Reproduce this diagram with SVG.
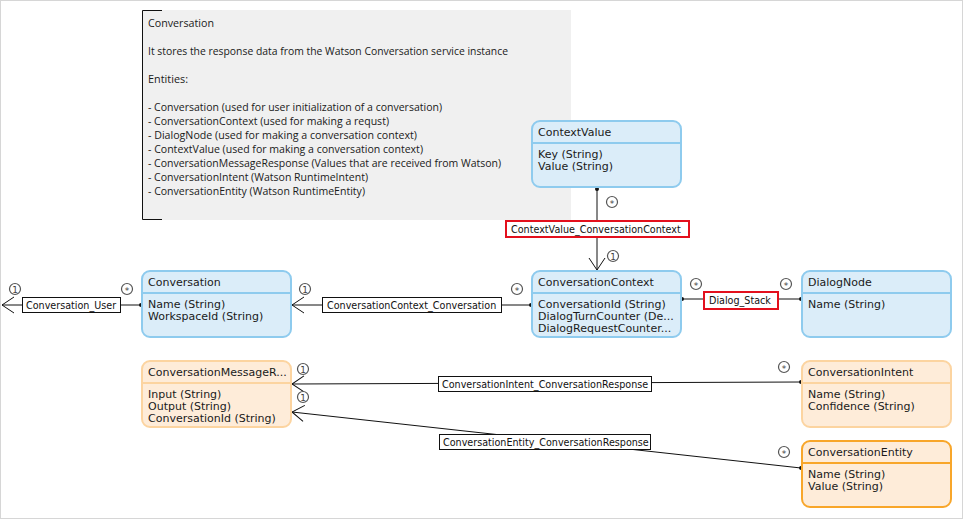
<svg xmlns="http://www.w3.org/2000/svg" width="964" height="520" viewBox="0 0 964 520">
<style>
.frame{fill:#fff;stroke:#d6d6d6;stroke-width:1}
.note{fill:#f0f0f0}
.nt{font-family:"Open Sans","Noto Sans",sans-serif;font-size:10.5px;fill:#1a1a1a}
.blue{fill:#dbedf9;stroke:#8ecbee;stroke-width:2}
.orange{fill:#feecd9;stroke:#fcd4a0;stroke-width:2}
.sel{fill:#feecd9;stroke:#f8a62a;stroke-width:2}
.sepb{stroke:#8ecbee;stroke-width:2}
.sepo{stroke:#fcd4a0;stroke-width:2}
.seps{stroke:#f8a62a;stroke-width:2}
.h{font-family:"DejaVu Sans",Verdana,sans-serif;font-size:11px;fill:#1a1a1a}
.a{font-family:"DejaVu Sans",Verdana,sans-serif;font-size:11px;fill:#1a1a1a}
.ln{stroke:#111;stroke-width:1;fill:none}
.lb{fill:#fff;stroke:#111;stroke-width:1}
.lbr{fill:#fff;stroke:#e3101d;stroke-width:2}
.lt{font-family:"DejaVu Sans",Verdana,sans-serif;font-size:9.6px;fill:#111}
.mc{fill:#fff;stroke:#555;stroke-width:1.2}
.mt{font-family:"DejaVu Sans",sans-serif;font-size:9px;fill:#444;text-anchor:middle}
</style>
<defs>
<marker id="open" markerUnits="userSpaceOnUse" markerWidth="16" markerHeight="18" refX="1" refY="9" orient="auto" overflow="visible">
<path d="M13,1 L1,9 L13,17" fill="none" stroke="#111" stroke-width="1"/>
</marker>
<marker id="dot" markerUnits="userSpaceOnUse" markerWidth="6" markerHeight="6" refX="3" refY="3" orient="auto">
<circle cx="3" cy="3" r="2" fill="#111"/>
</marker>
</defs>
<rect class="frame" x="0.5" y="0.5" width="962" height="518"/>

<g id="note">
<rect class="note" x="142" y="10" width="429" height="210"/>
<path d="M162,10.5 H142.5 V219.5 H162" fill="none" stroke="#111" stroke-width="1"/>
<text class="nt" x="148" y="27" textLength="66" lengthAdjust="spacingAndGlyphs">Conversation</text>
<text class="nt" x="148" y="55" textLength="360" lengthAdjust="spacingAndGlyphs">It stores the response data from the Watson Conversation service instance</text>
<text class="nt" x="148" y="83" textLength="40" lengthAdjust="spacingAndGlyphs">Entities:</text>
<text class="nt" x="148" y="111" textLength="294" lengthAdjust="spacingAndGlyphs">- Conversation (used for user initialization of a conversation)</text>
<text class="nt" x="148" y="125" textLength="241" lengthAdjust="spacingAndGlyphs">- ConversationContext (used for making a requst)</text>
<text class="nt" x="148" y="139" textLength="269" lengthAdjust="spacingAndGlyphs">- DialogNode (used for making a conversation context)</text>
<text class="nt" x="148" y="153" textLength="275" lengthAdjust="spacingAndGlyphs">- ContextValue (used for making a conversation context)</text>
<text class="nt" x="148" y="167" textLength="353" lengthAdjust="spacingAndGlyphs">- ConversationMessageResponse (Values that are received from Watson)</text>
<text class="nt" x="148" y="181" textLength="220" lengthAdjust="spacingAndGlyphs">- ConversationIntent (Watson RuntimeIntent)</text>
<text class="nt" x="148" y="195" textLength="217" lengthAdjust="spacingAndGlyphs">- ConversationEntity (Watson RuntimeEntity)</text>
</g>

<g id="connectors">
<line class="ln" x1="2" y1="305" x2="141" y2="305" marker-start="url(#open)" marker-end="url(#dot)"/>
<line class="ln" x1="292" y1="305" x2="531" y2="305" marker-start="url(#open)" marker-end="url(#dot)"/>
<line class="ln" x1="597" y1="270" x2="597" y2="189" marker-start="url(#open)" marker-end="url(#dot)"/>
<line class="ln" x1="682" y1="299" x2="801" y2="299" marker-start="url(#dot)" marker-end="url(#dot)"/>
<line class="ln" x1="292" y1="384" x2="801" y2="382" marker-start="url(#open)" marker-end="url(#dot)" stroke="#444"/>
<line class="ln" x1="292" y1="412" x2="801" y2="468" marker-start="url(#open)" marker-end="url(#dot)"/>

<rect class="lb" x="22.5" y="297.5" width="98" height="15"/>
<text class="lt" x="26" y="309">Conversation_User</text>
<rect class="lb" x="322.5" y="297.5" width="179" height="15"/>
<text class="lt" x="327" y="309">ConversationContext_Conversation</text>
<rect class="lbr" x="506" y="221" width="183" height="16"/>
<text class="lt" x="511" y="233">ContextValue_ConversationContext</text>
<rect class="lbr" x="704" y="292" width="74" height="17"/>
<text class="lt" x="709" y="304">Dialog_Stack</text>
<rect class="lb" x="438.5" y="376.5" width="213" height="15"/>
<text class="lt" x="442" y="388">ConversationIntent_ConversationResponse</text>
<rect class="lb" x="439.5" y="434.5" width="211" height="15"/>
<text class="lt" x="443" y="446">ConversationEntity_ConversationResponse</text>

<circle class="mc" cx="15" cy="289" r="5.5"/><text class="mt" x="15" y="292.5">1</text>
<circle class="mc" cx="127" cy="289" r="5.5"/><text class="mt" x="127" y="294">*</text>
<circle class="mc" cx="305" cy="289" r="5.5"/><text class="mt" x="305" y="292.5">1</text>
<circle class="mc" cx="517" cy="289" r="5.5"/><text class="mt" x="517" y="294">*</text>
<circle class="mc" cx="612" cy="202" r="5.5"/><text class="mt" x="612" y="207">*</text>
<circle class="mc" cx="613" cy="256" r="5.5"/><text class="mt" x="613" y="259.5">1</text>
<circle class="mc" cx="696" cy="284" r="5.5"/><text class="mt" x="696" y="289">*</text>
<circle class="mc" cx="786" cy="284" r="5.5"/><text class="mt" x="786" y="289">*</text>
<circle class="mc" cx="303" cy="369" r="5.5"/><text class="mt" x="303" y="372.5">1</text>
<circle class="mc" cx="784" cy="367" r="5.5"/><text class="mt" x="784" y="372">*</text>
<circle class="mc" cx="303" cy="397" r="5.5"/><text class="mt" x="303" y="400.5">1</text>
<circle class="mc" cx="784" cy="452" r="5.5"/><text class="mt" x="784" y="457">*</text>
</g>

<g id="ContextValue">
<rect class="blue" x="532" y="121" width="149" height="66" rx="8"/>
<line class="sepb" x1="532" y1="143" x2="681" y2="143"/>
<text class="h" x="538" y="136">ContextValue</text>
<text class="a" x="538" y="158">Key (String)</text>
<text class="a" x="538" y="170">Value (String)</text>
</g>

<g id="Conversation">
<rect class="blue" x="142" y="271" width="149" height="66" rx="8"/>
<line class="sepb" x1="142" y1="293" x2="291" y2="293"/>
<text class="h" x="148" y="286">Conversation</text>
<text class="a" x="148" y="308">Name (String)</text>
<text class="a" x="148" y="320">WorkspaceId (String)</text>
</g>

<g id="ConversationContext">
<rect class="blue" x="532" y="271" width="149" height="66" rx="8"/>
<line class="sepb" x1="532" y1="293" x2="681" y2="293"/>
<text class="h" x="538" y="286">ConversationContext</text>
<text class="a" x="538" y="308">ConversationId (String)</text>
<text class="a" x="538" y="320">DialogTurnCounter (De...</text>
<text class="a" x="538" y="332">DialogRequestCounter...</text>
</g>

<g id="DialogNode">
<rect class="blue" x="802" y="271" width="149" height="66" rx="8"/>
<line class="sepb" x1="802" y1="293" x2="951" y2="293"/>
<text class="h" x="808" y="286">DialogNode</text>
<text class="a" x="808" y="308">Name (String)</text>
</g>

<g id="ConversationMessageResponse">
<rect class="orange" x="142" y="361" width="149" height="66" rx="8"/>
<line class="sepo" x1="142" y1="383" x2="291" y2="383"/>
<text class="h" x="148" y="376">ConversationMessageR...</text>
<text class="a" x="148" y="398">Input (String)</text>
<text class="a" x="148" y="410">Output (String)</text>
<text class="a" x="148" y="422">ConversationId (String)</text>
</g>

<g id="ConversationIntent">
<rect class="orange" x="802" y="361" width="149" height="66" rx="8"/>
<line class="sepo" x1="802" y1="383" x2="951" y2="383"/>
<text class="h" x="808" y="376">ConversationIntent</text>
<text class="a" x="808" y="398">Name (String)</text>
<text class="a" x="808" y="410">Confidence (String)</text>
</g>

<g id="ConversationEntity">
<rect class="sel" x="802" y="441" width="149" height="66" rx="8"/>
<line class="seps" x1="802" y1="463" x2="951" y2="463"/>
<text class="h" x="808" y="456">ConversationEntity</text>
<text class="a" x="808" y="478">Name (String)</text>
<text class="a" x="808" y="490">Value (String)</text>
</g>
</svg>
